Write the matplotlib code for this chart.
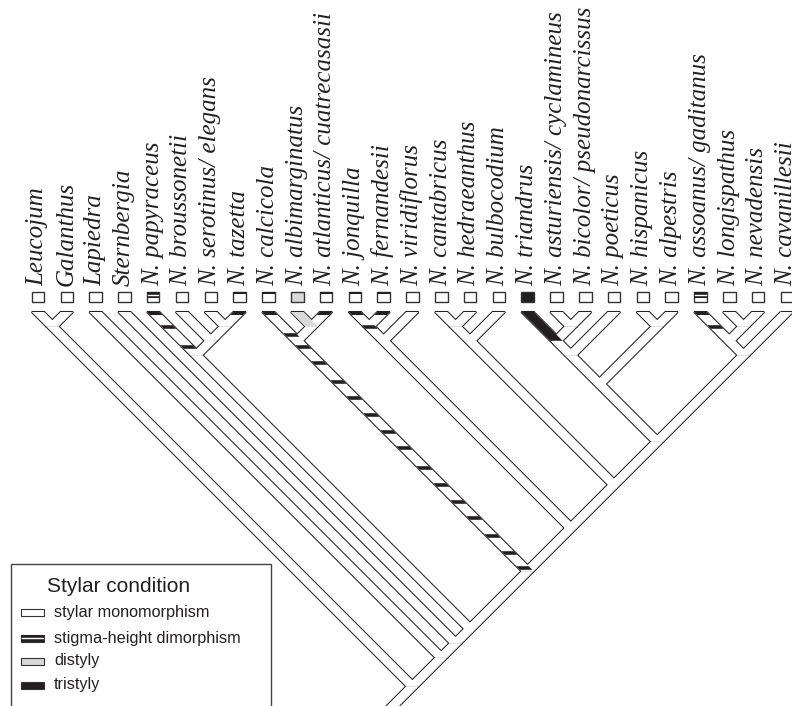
import matplotlib.pyplot as plt
from matplotlib.patches import Polygon, Rectangle

# taxa, left to right
taxa = ["Leucojum", "Galanthus", "Lapiedra", "Sternbergia",
        "N. papyraceus", "N. broussonetii", "N. serotinus/ elegans", "N. tazetta",
        "N. calcicola", "N. albimarginatus", "N. atlanticus/ cuatrecasasii",
        "N. jonquilla", "N. fernandesii", "N. viridiflorus", "N. cantabricus",
        "N. hedraeanthus", "N. bulbocodium", "N. triandrus",
        "N. asturiensis/ cyclamineus", "N. bicolor/ pseudonarcissus",
        "N. poeticus", "N. hispanicus", "N. alpestris", "N. assoanus/ gaditanus",
        "N. longispathus", "N. nevadensis", "N. cavanillesii"]

# topology as nested pairs of taxon indices
tree = ((0, 1), (2, (3, ((4, (5, (6, 7))),
        ((8, (9, 10)), (((11, 12), 13), (((14, 15), 16),
        ((((17, (18, 19)), 20), (21, 22)), ((23, (24, 25)), 26)))))))))

# state shown in the box above each taxon
box_state = ["mono", "mono", "mono", "mono", "dimorph", "mono", "mono", "part",
             "part", "distyly", "part", "part", "part", "mono", "mono", "mono",
             "mono", "tristyly", "mono", "mono", "mono", "mono", "mono", "dimorph",
             "mono", "mono", "mono"]

# terminal branches filled completely
branch_fill = {17: "tristyly", 9: "distyly"}
# terminal branches with a black band at the tip
top_bar = [4, 7, 8, 10, 11, 12, 23]
# black bars along a lineage (depth below the tips, px)
bars = {4: [15, 35], 11: [15], 23: [15],
        8: [23, 35, 51, 70, 86, 103, 120, 136, 156, 173, 190, 206, 224, 241, 256]}

legend_labels = ["stylar monomorphism", "stigma-height dimorphism", "distyly", "tristyly"]
legend_states = ["mono", "dimorph", "distyly", "tristyly"]

BLACK = "#231f20"
GREY = "#d9d9d9"
x0, dx = 38.0, 28.8
ytop = 312.0
hw = 6.2

fig = plt.figure(figsize=(7.92, 7.06), dpi=100)
ax = fig.add_axes([0, 0, 1, 1])
ax.set_xlim(0, 792)
ax.set_ylim(706, 0)
ax.axis("off")

nodes = []


def build(t):
    if isinstance(t, int):
        n = {"x": x0 + dx * t, "d": 0.0, "tip": t, "parent": None}
    else:
        a, b = build(t[0]), build(t[1])
        d = (b["x"] - a["x"] + a["d"] + b["d"]) / 2
        n = {"x": a["x"] + d - a["d"], "d": d, "tip": None, "parent": None}
        a["parent"] = n
        b["parent"] = n
    nodes.append(n)
    return n


root = build(tree)
tips = {n["tip"]: n for n in nodes if n["tip"] is not None}


def branch_poly(n):
    p = n["parent"]
    if p is None:
        px, pd = n["x"] - 45, n["d"] + 45
    else:
        px, pd = p["x"], p["d"]
    return [(n["x"] - hw, ytop + n["d"]), (n["x"] + hw, ytop + n["d"]),
            (px + hw, ytop + pd), (px - hw, ytop + pd)]


def x_at(tip, d):
    n = tips[tip]
    while n["parent"] is not None and n["parent"]["d"] < d:
        n = n["parent"]
    p = n["parent"]
    return n["x"] + (p["x"] - n["x"]) * (d - n["d"]) / (p["d"] - n["d"])


def band(tip, d1, d2, color):
    xa, xb = x_at(tip, d1), x_at(tip, d2)
    ax.add_patch(Polygon([(xa - hw, ytop + d1), (xa + hw, ytop + d1),
                          (xb + hw, ytop + d2), (xb - hw, ytop + d2)],
                         closed=True, fc=color, ec="none", zorder=3))


# outline of the union of all branches: black edges first, white fill on top
polys = [branch_poly(n) for n in nodes]
for pts in polys:
    ax.add_patch(Polygon(pts, closed=True, fc="none", ec=BLACK, lw=1.5, zorder=1))
for pts in polys:
    ax.add_patch(Polygon(pts, closed=True, fc="white", ec="none", zorder=2))

for t, st in branch_fill.items():
    ax.add_patch(Polygon(branch_poly(tips[t]), closed=True,
                         fc=BLACK if st == "tristyly" else GREY, ec="none", zorder=3))
for t in top_bar:
    band(t, 0, 3, BLACK)
for t, ds in bars.items():
    for d in ds:
        band(t, d - 1.8, d + 1.8, BLACK)


def state_box(x, y, w, h, st, lw=1.0, z=4, frac=0.6):
    fc = {"mono": "white", "dimorph": "white", "part": "white",
          "distyly": GREY, "tristyly": BLACK}[st]
    ax.add_patch(Rectangle((x, y), w, h, fc=fc, ec="#333333", lw=lw, zorder=z))
    if st == "dimorph":
        ax.add_patch(Rectangle((x, y), w, h * frac, fc=BLACK, ec="none", zorder=z + 1))
        ax.plot([x + 1, x + w - 1], [y + h * frac / 2, y + h * frac / 2],
                color="white", lw=1.0, zorder=z + 2)
    if st == "part":
        ax.add_patch(Rectangle((x, y), w, h * 0.22, fc=BLACK, ec="none", zorder=z + 1))


for i, name in enumerate(taxa):
    x = tips[i]["x"]
    state_box(x - 6.3, 292, 12.6, 10, box_state[i])
    ax.text(x + 5.5, 286, name, rotation=90, rotation_mode="anchor",
            ha="left", va="baseline", family="Liberation Serif", style="italic",
            fontsize=18, color=BLACK)

# legend
ax.add_patch(Rectangle((11, 564), 260, 160, fc="white", ec="#444444", lw=1.0,
                       zorder=6))
ax.text(47, 586, "Stylar condition", ha="left", va="center",
        family="Liberation Sans", fontsize=15, color=BLACK, zorder=7)
for k, (lab, st) in enumerate(zip(legend_labels, legend_states)):
    yy = [612, 638, 661, 685][k]
    state_box(21, yy - 3.5, 23, 7.5, st, lw=0.8, z=8, frac=1.0)
    ax.text(54, yy, lab, ha="left", va="center", family="Liberation Sans",
            fontsize=11.7, color=BLACK, zorder=7)

fig.savefig("out.png", dpi=100)
